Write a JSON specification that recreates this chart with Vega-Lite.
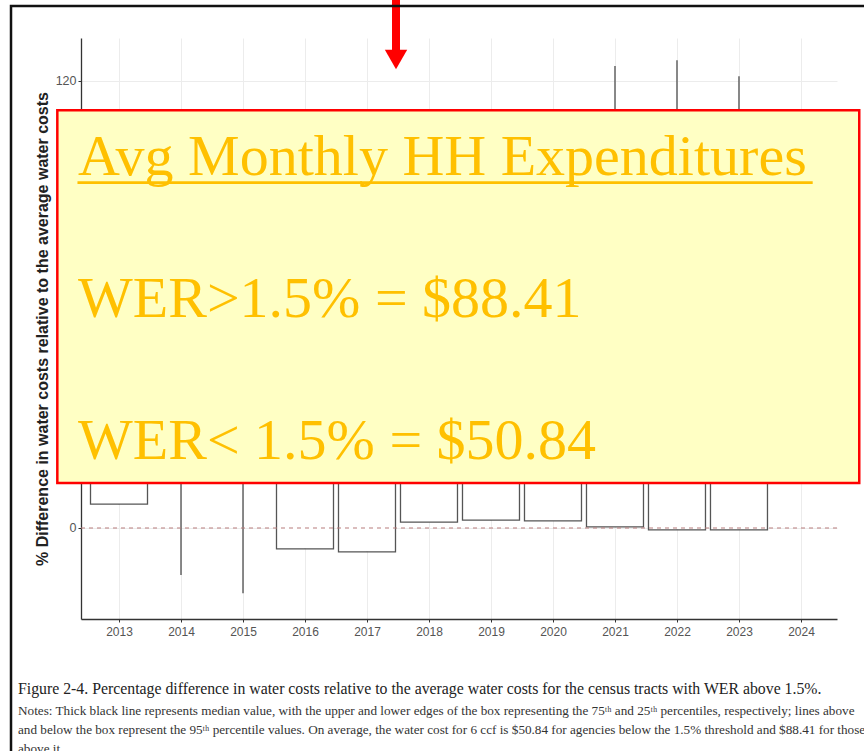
{
  "$schema": "https://vega.github.io/schema/vega-lite/v6.json",
  "width": 756,
  "height": 581,
  "padding": {"left": 81, "top": 38, "right": 27, "bottom": 132},
  "autosize": {"type": "none"},
  "background": "white",
  "config": {"view": {"stroke": null}},
  "data": {"values": [
    {"year": 2013, "lower": 6.4, "q1": 6.4, "median": 25, "q3": 46, "upper": 96},
    {"year": 2014, "lower": -12.6, "q1": 14, "median": 36, "q3": 60, "upper": 106},
    {"year": 2015, "lower": -17.5, "q1": 13, "median": 34, "q3": 58, "upper": 108},
    {"year": 2016, "lower": -5.6, "q1": -5.6, "median": 18, "q3": 42, "upper": 100},
    {"year": 2017, "lower": -6.4, "q1": -6.4, "median": 17, "q3": 41, "upper": 98},
    {"year": 2018, "lower": 1.6, "q1": 1.6, "median": 24, "q3": 48, "upper": 105},
    {"year": 2019, "lower": 2.1, "q1": 2.1, "median": 25, "q3": 49, "upper": 104},
    {"year": 2020, "lower": 1.9, "q1": 1.9, "median": 26, "q3": 50, "upper": 108},
    {"year": 2021, "lower": 0.3, "q1": 0.3, "median": 27, "q3": 55, "upper": 124},
    {"year": 2022, "lower": -0.5, "q1": -0.5, "median": 28, "q3": 57, "upper": 125.6},
    {"year": 2023, "lower": -0.5, "q1": -0.5, "median": 27, "q3": 56, "upper": 121.3}
  ]},
  "layer": [
    {
      "mark": {"type": "rule", "color": "#4d4d4d", "strokeWidth": 1.3},
      "encoding": {
        "x": {
          "field": "year", "type": "quantitative",
          "scale": {"domain": [2012.387, 2024.581], "nice": false, "zero": false, "padding": 0},
          "axis": {
            "title": null,
            "values": [2013, 2014, 2015, 2016, 2017, 2018, 2019, 2020, 2021, 2022, 2023, 2024],
            "format": "d", "labelOverlap": false, "labelFlush": false,
            "labelFont": "Liberation Sans", "labelFontSize": 12, "labelColor": "#555",
            "labelPadding": 4, "tickSize": 3, "tickColor": "#333",
            "domainColor": "#333", "domainWidth": 1.3,
            "gridColor": "#ececec", "gridWidth": 1
          }
        },
        "y": {
          "field": "lower", "type": "quantitative",
          "scale": {"domain": [-24.43, 131.54], "nice": false, "zero": false, "padding": 0},
          "axis": {
            "title": "% Difference in water costs relative to the average water costs",
            "values": [0, 40, 80, 120],
            "labelFont": "Liberation Sans", "labelFontSize": 12.5, "labelColor": "#555",
            "labelPadding": 2, "tickSize": 3, "tickColor": "#333",
            "domainColor": "#333", "domainWidth": 1.3,
            "gridColor": "#ececec", "gridWidth": 1,
            "titleFont": "Liberation Sans", "titleFontSize": 16, "titleFontWeight": "bold",
            "titleColor": "#222", "titleX": -39, "titleBaseline": "middle"
          }
        },
        "y2": {"field": "upper"}
      }
    },
    {
      "mark": {"type": "bar", "fill": "white", "stroke": "#555", "strokeWidth": 1.3, "size": 57},
      "encoding": {
        "x": {"field": "year", "type": "quantitative"},
        "y": {"field": "q1", "type": "quantitative"},
        "y2": {"field": "q3"}
      }
    },
    {
      "mark": {"type": "tick", "orient": "horizontal", "color": "#111", "thickness": 2.5, "size": 57},
      "encoding": {
        "x": {"field": "year", "type": "quantitative"},
        "y": {"field": "median", "type": "quantitative"}
      }
    },
    {
      "data": {"values": [{}]},
      "mark": {"type": "rule", "color": "#b87c7c", "strokeDash": [4, 4], "strokeWidth": 1.2},
      "encoding": {"y": {"datum": 0}}
    },
    {
      "data": {"values": [{}]},
      "mark": {"type": "rect", "fill": "#ffffc4", "stroke": "#ff0000", "strokeWidth": 2.5},
      "encoding": {
        "x": {"datum": 2012.005}, "x2": {"datum": 2024.94},
        "y": {"datum": 112.13}, "y2": {"datum": 12.08}
      }
    },
    {
      "data": {"values": [{}]},
      "mark": {
        "type": "text",
        "text": ["Avg Monthly HH Expenditures", "WER>1.5% = $88.41", "WER< 1.5% = $50.84"],
        "lineHeight": 142, "align": "left", "baseline": "alphabetic",
        "font": "Liberation Serif", "fontSize": 58, "color": "#ffc000"
      },
      "encoding": {"x": {"datum": 2012.339}, "y": {"datum": 94.63}}
    },
    {
      "data": {"values": [{}]},
      "mark": {"type": "rule", "color": "#ffc000", "strokeWidth": 2.7},
      "encoding": {"x": {"datum": 2012.33}, "x2": {"datum": 2024.189}, "y": {"datum": 92.7}}
    },
    {
      "data": {"values": [{}]},
      "mark": {"type": "rule", "color": "#ff0000", "strokeWidth": 8},
      "encoding": {"x": {"datum": 2017.468}, "y": {"datum": 143}, "y2": {"datum": 126.7}}
    },
    {
      "data": {"values": [{}]},
      "mark": {"type": "point", "shape": "triangle-down", "size": 500, "filled": true, "fill": "#ff0000", "opacity": 1, "strokeWidth": 0},
      "encoding": {"x": {"datum": 2017.468}, "y": {"datum": 125.77}}
    },
    {
      "data": {"values": [{}]},
      "mark": {"type": "rect", "fill": "transparent", "stroke": "#111", "strokeWidth": 2.5},
      "encoding": {
        "x": {"datum": 2011.258}, "x2": {"datum": 2025.3},
        "y": {"datum": 140.13}, "y2": {"datum": -64}
      }
    },
    {
      "data": {"values": [{}]},
      "mark": {
        "type": "text",
        "text": "Figure 2-4. Percentage difference in water costs relative to the average water costs for the census tracts with WER above 1.5%.",
        "align": "left", "baseline": "alphabetic",
        "font": "Liberation Serif", "fontSize": 15.8, "color": "#222"
      },
      "encoding": {"x": {"datum": 2011.371}, "y": {"datum": -44.56}}
    },
    {
      "data": {"values": [{}]},
      "mark": {
        "type": "text",
        "text": [
          "Notes: Thick black line represents median value, with the upper and lower edges of the box representing the 75ᵗʰ and 25ᵗʰ percentiles, respectively; lines above",
          "and below the box represent the 95ᵗʰ percentile values. On average, the water cost for 6 ccf is $50.84 for agencies below the 1.5% threshold and $88.41 for those",
          "above it."
        ],
        "lineHeight": 19, "align": "left", "baseline": "alphabetic",
        "font": "Liberation Serif", "fontSize": 13.2, "color": "#333"
      },
      "encoding": {"x": {"datum": 2011.371}, "y": {"datum": -50.2}}
    }
  ]
}
